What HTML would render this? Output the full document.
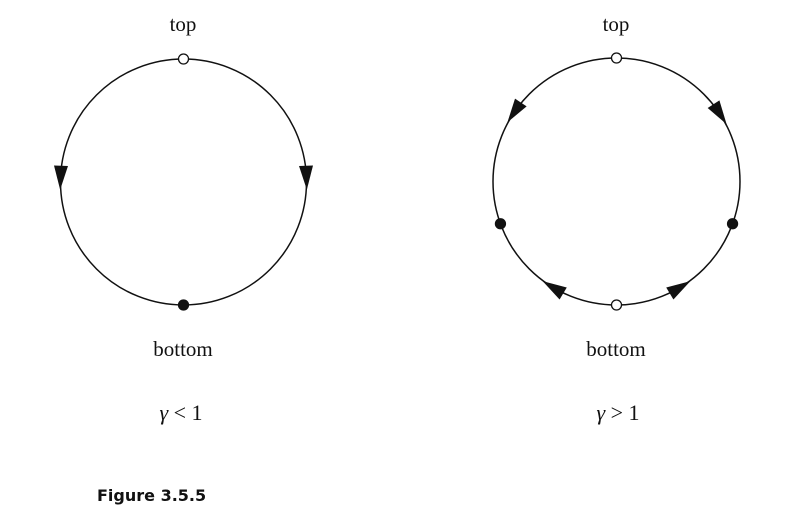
<!DOCTYPE html>
<html><head><meta charset="utf-8"><style>
body{margin:0;background:#fff;width:793px;height:516px;overflow:hidden}
svg{display:block}
text{font-family:"Liberation Serif",serif;fill:#111}
</style></head><body>
<svg id="fig" width="793" height="516" viewBox="0 0 793 516">
<g>
<circle cx="183.5" cy="182" r="123" fill="none" stroke="#111" stroke-width="1.5"/>
<text x="183" y="31" font-size="21" text-anchor="middle">top</text>
<text x="183" y="356" font-size="21" text-anchor="middle">bottom</text>
<text x="181" y="420" font-size="22" text-anchor="middle"><tspan font-style="italic">γ</tspan> &lt; 1</text>
</g>
<g>
<circle cx="616.5" cy="181.5" r="123.5" fill="none" stroke="#111" stroke-width="1.5"/>
<text x="616" y="31" font-size="21" text-anchor="middle">top</text>
<text x="616" y="356" font-size="21" text-anchor="middle">bottom</text>
<text x="618" y="420" font-size="22" text-anchor="middle"><tspan font-style="italic">γ</tspan> &gt; 1</text>
</g>
<text x="97" y="501" font-size="16" font-weight="bold" style="font-family:'DejaVu Sans','Liberation Sans',sans-serif">Figure 3.5.5</text>
<g id="marks"></g>
</svg>
<script>
// angles in degrees, measured clockwise from right (screen coords: y down)
const leftCenter=[183.5,182], leftR=123;
const rightCenter=[616.5,181.5], rightR=123.5;
const leftOpen=[-90], leftFilled=[90];
const leftArrows=[182,-2];
const leftArrowDir=[-1,1];      // 1 = clockwise, -1 = counterclockwise
const rightOpen=[-90,90], rightFilled=[160,20];
const rightArrows=[-146,-33,121,59];
const rightArrowDir=[-1,1,1,-1];
const NS="http://www.w3.org/2000/svg", g=document.getElementById('marks');
function pt(c,r,a){const t=a*Math.PI/180;return [c[0]+r*Math.cos(t),c[1]+r*Math.sin(t)];}
function dot(c,r,a,filled){
  const p=pt(c,r,a), e=document.createElementNS(NS,'circle');
  e.setAttribute('cx',p[0]);e.setAttribute('cy',p[1]);e.setAttribute('r',5);
  e.setAttribute('fill',filled?'#111':'#fff');e.setAttribute('stroke','#111');e.setAttribute('stroke-width',1.3);
  
  
  g.appendChild(e);
}
function arrow(c,r,a,dir){
  const p=pt(c,r,a), heading=a+90*dir, e=document.createElementNS(NS,'polygon');
  e.setAttribute('points','12,0 -12,-7 -12,7');
  e.setAttribute('fill','#111');
  e.setAttribute('transform','translate('+p[0]+','+p[1]+') rotate('+heading+')');
  
  
  g.appendChild(e);
}
leftArrows.forEach((a,i)=>arrow(leftCenter,leftR,a,leftArrowDir[i]));
rightArrows.forEach((a,i)=>arrow(rightCenter,rightR,a,rightArrowDir[i]));
leftOpen.forEach(a=>dot(leftCenter,leftR,a,false));
leftFilled.forEach(a=>dot(leftCenter,leftR,a,true));
rightOpen.forEach(a=>dot(rightCenter,rightR,a,false));
rightFilled.forEach(a=>dot(rightCenter,rightR,a,true));
</script>
</body></html>
